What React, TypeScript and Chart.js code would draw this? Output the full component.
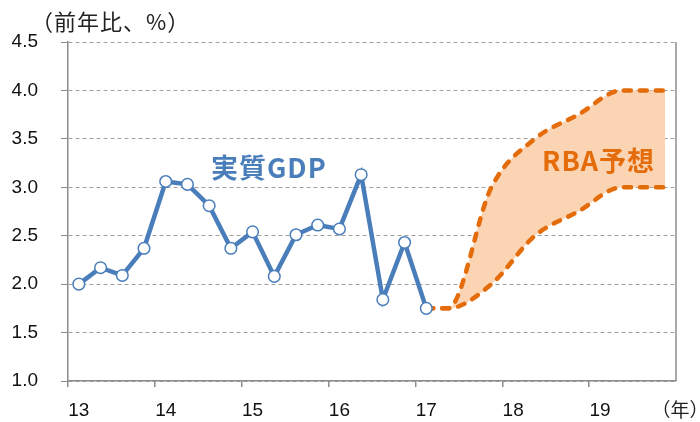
import React, { useEffect, useRef } from 'react';
import { Chart, registerables } from 'chart.js';

Chart.register(...registerables);

// 2013Q1 .. 2019Q4 (quarterly categories)
const categories = [
  '13Q1', '13Q2', '13Q3', '13Q4',
  '14Q1', '14Q2', '14Q3', '14Q4',
  '15Q1', '15Q2', '15Q3', '15Q4',
  '16Q1', '16Q2', '16Q3', '16Q4',
  '17Q1', '17Q2', '17Q3', '17Q4',
  '18Q1', '18Q2', '18Q3', '18Q4',
  '19Q1', '19Q2', '19Q3', '19Q4',
];
const yearLabels = ['13', '14', '15', '16', '17', '18', '19'];

// Real GDP, year-on-year %
const realGdp = [
  2.0, 2.17, 2.09, 2.37,
  3.06, 3.03, 2.81, 2.37,
  2.54, 2.08, 2.51, 2.61,
  2.57, 3.13, 1.84, 2.43,
  1.75, null, null, null,
  null, null, null, null,
  null, null, null, null,
];

// RBA forecast range (upper / lower)
const rbaHigh = [
  null, null, null, null,
  null, null, null, null,
  null, null, null, null,
  null, null, null, null,
  1.75, 1.75, null, 3.0,
  null, 3.5, null, 3.75,
  null, 4.0, null, 4.0,
];
const rbaLow = [
  null, null, null, null,
  null, null, null, null,
  null, null, null, null,
  null, null, null, null,
  1.75, 1.75, null, 2.0,
  null, 2.5, null, 2.75,
  null, 3.0, null, 3.0,
];

const yTitle = '（前年比、%）';
const xUnit = '（年）';
const gdpLabel = '実質GDP';
const rbaLabel = 'RBA予想';

const BLUE = '#4A7EBB';
const ORANGE = '#E46C0A';
const FILL = '#FBD4B4';
const AXIS = '#8C8C8C';
const GRID = '#A0A0A0';
const TEXT_FONT = '"Liberation Sans", Arial, sans-serif';
const CJK_FONT = '"Noto Sans CJK JP", "Noto Sans", sans-serif';

const textPlugin = {
  id: 'annotText',
  afterDraw(chart: any) {
    const { ctx, chartArea } = chart;
    const x = chart.scales.x;
    ctx.save();
    // right border
    ctx.strokeStyle = AXIS;
    ctx.lineWidth = 1.5;
    ctx.beginPath();
    ctx.moveTo(chartArea.right, chartArea.top);
    ctx.lineTo(chartArea.right, chartArea.bottom);
    ctx.stroke();

    // y title
    ctx.fillStyle = '#222';
    ctx.font = `22px ${CJK_FONT}`;
    (ctx as any).letterSpacing = '1px';
    ctx.textAlign = 'left';
    ctx.textBaseline = 'middle';
    ctx.fillText(yTitle, 31, 22);

    // x unit
    ctx.font = `19px ${CJK_FONT}`;
    (ctx as any).letterSpacing = '0px';
    ctx.textAlign = 'center';
    ctx.fillText(xUnit, x.right + 4, 410);

    // series labels
    ctx.font = `bold 27px ${CJK_FONT}`;
    (ctx as any).letterSpacing = '1px';
    ctx.textAlign = 'left';
    ctx.fillStyle = BLUE;
    ctx.fillText(gdpLabel, 211, 168);
    ctx.fillStyle = ORANGE;
    ctx.fillText(rbaLabel, 542, 161);
    ctx.restore();
  },
};

export default function App() {
  const ref = useRef<HTMLCanvasElement | null>(null);

  useEffect(() => {
    document.body.style.margin = '0';
    const canvas = ref.current;
    if (!canvas) return;
    const chart = new Chart(canvas, {
      type: 'line',
      data: {
        labels: categories,
        datasets: [
          {
            label: gdpLabel,
            data: realGdp,
            borderColor: BLUE,
            borderWidth: 4.5,
            pointRadius: 5.8,
            pointBorderWidth: 1.5,
            pointBackgroundColor: '#ffffff',
            pointBorderColor: BLUE,
            tension: 0,
            fill: false,
            spanGaps: false,
          },
          {
            label: 'RBA high',
            data: rbaHigh,
            borderColor: ORANGE,
            borderWidth: 4.5,
            borderDash: [7, 9],
            borderCapStyle: 'round',
            pointRadius: 0,
            cubicInterpolationMode: 'monotone',
            spanGaps: true,
            backgroundColor: FILL,
            fill: '+1',
          },
          {
            label: 'RBA low',
            data: rbaLow,
            borderColor: ORANGE,
            borderWidth: 4.5,
            borderDash: [7, 9],
            borderCapStyle: 'round',
            pointRadius: 0,
            cubicInterpolationMode: 'monotone',
            spanGaps: true,
            fill: false,
          },
        ],
      } as any,
      options: {
        responsive: false,
        animation: false,
        devicePixelRatio: 1,
        layout: { padding: { top: 42, right: 24, left: 0, bottom: 0 } },
        plugins: {
          legend: { display: false },
          tooltip: { enabled: false },
          filler: { drawTime: 'beforeDatasetsDraw' },
        },
        scales: {
          x: {
            type: 'category',
            offset: true,
            grid: {
              display: true,
              drawOnChartArea: false,
              drawTicks: true,
              tickLength: 6,
              offset: true,
              color: (c: any) => (c.index % 4 === 0 ? AXIS : 'rgba(0,0,0,0)'),
              lineWidth: 1.5,
            },
            border: { display: true, color: AXIS, width: 1.5 },
            ticks: {
              autoSkip: false,
              maxRotation: 0,
              minRotation: 0,
              padding: 12,
              color: '#111',
              font: { size: 19, family: TEXT_FONT },
              callback: (_v: any, i: number) => (i % 4 === 0 ? yearLabels[i / 4] : ''),
            },
            afterFit: (s: any) => {
              s.height = 41;
            },
          },
          y: {
            min: 1.0,
            max: 4.5,
            ticks: {
              stepSize: 0.5,
              padding: 23,
              color: '#111',
              font: { size: 19, family: TEXT_FONT },
              callback: (v: any) => Number(v).toFixed(1),
            },
            grid: {
              color: GRID,
              lineWidth: 1,
              drawTicks: true,
              tickLength: 7,
              tickColor: AXIS,
            },
            border: { display: true, color: AXIS, width: 1.5, dash: [4, 3] },
            afterFit: (s: any) => {
              s.width = 68;
            },
          },
        },
      } as any,
      plugins: [textPlugin],
    });
    return () => chart.destroy();
  }, []);

  return (
    <div style={{ width: 700, height: 422 }}>
      <canvas ref={ref} width={700} height={422} style={{ display: 'block' }} />
    </div>
  );
}
